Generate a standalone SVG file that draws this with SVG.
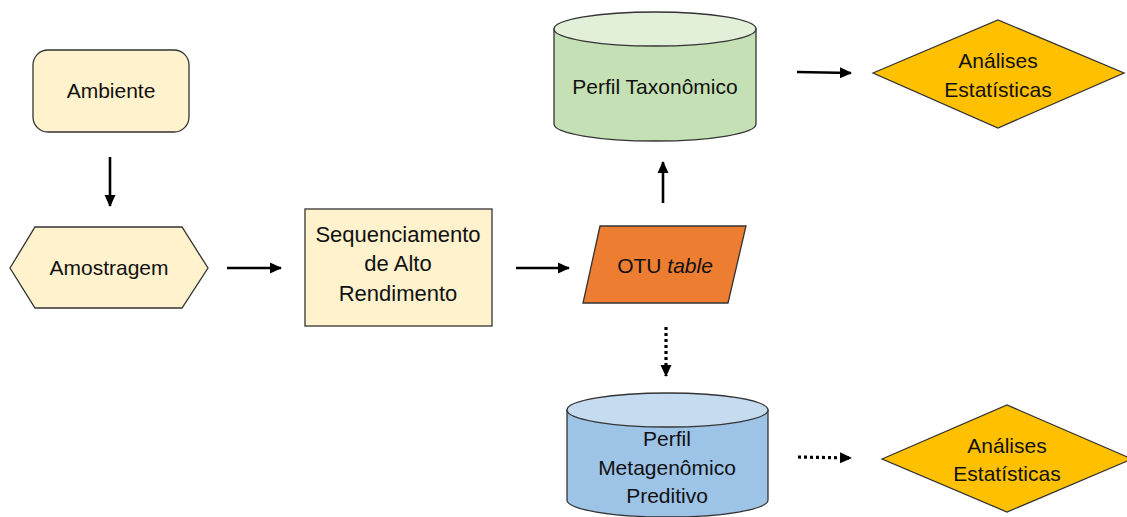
<svg xmlns="http://www.w3.org/2000/svg" width="1127" height="517" viewBox="0 0 1127 517">
  <style>
    .t { font-family: "Liberation Sans", Arial, sans-serif; font-size: 21px; fill: #111; text-anchor: middle; }
    .shape { stroke: #333; stroke-width: 1.3; }
    .yel { fill: #FFF2CC; }
    .conn { stroke: #000; stroke-width: 2.6; fill: none; marker-end: url(#ah); }
    .dot { stroke-dasharray: 3 3; stroke-width: 3.2; }
  </style>
  <defs>
    <marker id="ah" markerUnits="userSpaceOnUse" markerWidth="12" markerHeight="12" viewBox="0 0 12 12" refX="11" refY="6" orient="auto">
      <path d="M0,0.5 L12,6 L0,11.5 Z" fill="#000"/>
    </marker>
  </defs>
  <rect width="1127" height="517" fill="#fff"/>

  <g id="ambiente">
    <rect class="shape yel" x="33" y="50" width="156" height="82" rx="15" ry="15"/>
    <text class="t" x="111" y="98">Ambiente</text>
  </g>

  <g id="amostragem">
    <polygon class="shape yel" points="10,268 35,227 182,227 208,268 182,308 35,308"/>
    <text class="t" x="109" y="275">Amostragem</text>
  </g>

  <g id="sequenciamento">
    <rect class="shape yel" x="305" y="209" width="187" height="117"/>
    <text class="t" x="398" y="242" style="font-size:22px">Sequenciamento</text>
    <text class="t" x="398" y="271" style="font-size:22px">de Alto</text>
    <text class="t" x="398" y="301" style="font-size:22px">Rendimento</text>
  </g>

  <g id="otu">
    <polygon class="shape" fill="#ED7D31" points="600,226 746,226 728,303 583,303"/>
    <text class="t" x="665" y="273">OTU <tspan font-style="italic">table</tspan></text>
  </g>

  <g id="perfil-taxonomico">
    <path class="shape" fill="#C5E0B4" d="M554,29 L554,124 A101,17 0 0 0 756,124 L756,29 Z"/>
    <ellipse class="shape" fill="#E2F0D9" cx="655" cy="29" rx="101" ry="17"/>
    <text class="t" x="655" y="94">Perfil Taxonômico</text>
  </g>

  <g id="analises-1">
    <polygon class="shape" fill="#FFC000" points="873,73 998,20 1124,73 998,128"/>
    <text class="t" x="998" y="68">Análises</text>
    <text class="t" x="998" y="97">Estatísticas</text>
  </g>

  <g id="perfil-metagenomico">
    <path class="shape" fill="#9DC3E6" d="M567,410 L567,500 A100.5,17 0 0 0 768,500 L768,410 Z"/>
    <ellipse class="shape" fill="#C5DCF0" cx="667.5" cy="410" rx="100.5" ry="17"/>
    <text class="t" x="667" y="446">Perfil</text>
    <text class="t" x="667" y="475">Metagenômico</text>
    <text class="t" x="667" y="503">Preditivo</text>
  </g>

  <g id="analises-2">
    <polygon class="shape" fill="#FFC000" points="882,459 1007,405 1132,459 1007,512"/>
    <text class="t" x="1007" y="453">Análises</text>
    <text class="t" x="1007" y="481">Estatísticas</text>
  </g>

  <g id="connectors">
    <line class="conn" x1="110" y1="157" x2="110" y2="206"/>
    <line class="conn" x1="227" y1="268" x2="281" y2="268"/>
    <line class="conn" x1="516" y1="268" x2="569" y2="268"/>
    <line class="conn" x1="663" y1="203" x2="663" y2="162"/>
    <line class="conn" x1="797" y1="72" x2="851" y2="73"/>
    <line class="conn dot" x1="666" y1="327" x2="666" y2="376"/>
    <line class="conn dot" x1="798" y1="457" x2="851" y2="458"/>
  </g>
</svg>
